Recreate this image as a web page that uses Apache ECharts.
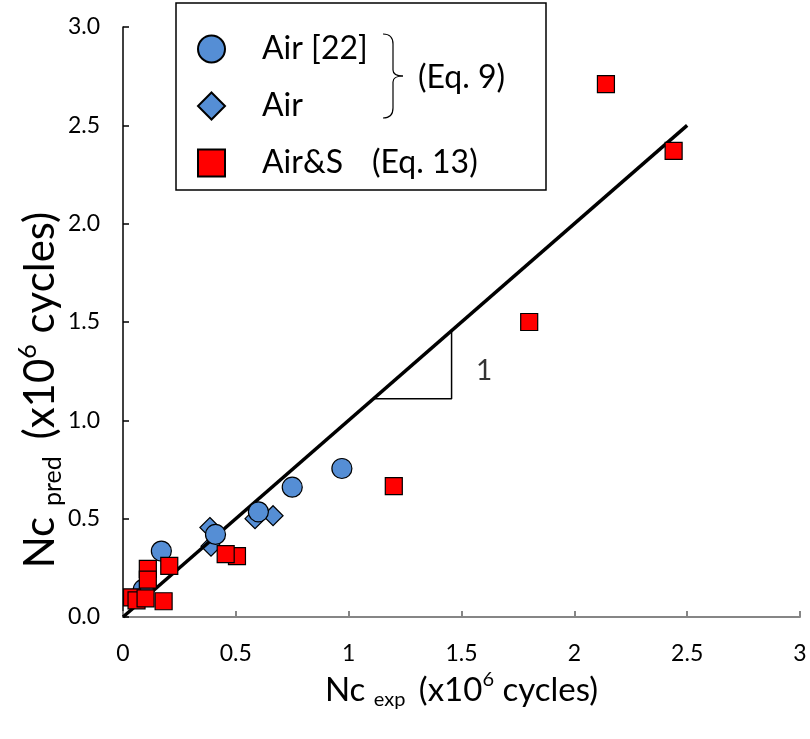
<!DOCTYPE html>
<html>
<head>
<meta charset="utf-8">
<script src="https://cdn.jsdelivr.net/npm/echarts@6/dist/echarts.min.js"></script>
<style>html,body{margin:0;padding:0;background:#fff}#c{width:810px;height:739px}</style>
</head>
<body>
<div id="c"></div>
<script>
// ---- data ----
var xTicks = [0, 0.5, 1, 1.5, 2, 2.5, 3];
var yTicks = [0, 0.5, 1.0, 1.5, 2.0, 2.5, 3.0];
var airRef = [[0.97,0.755],[0.75,0.66],[0.60,0.535],[0.41,0.42],[0.17,0.335],[0.09,0.14]];
var airOwn = [[0.665,0.515],[0.585,0.50],[0.385,0.455],[0.39,0.36],[0.10,0.15],[0.07,0.12]];
var airS = [[2.14,2.71],[2.44,2.37],[1.80,1.50],[1.20,0.665],[0.505,0.31],[0.455,0.32],[0.205,0.26],[0.11,0.245],[0.11,0.19],[0.04,0.10],[0.06,0.085],[0.10,0.095],[0.18,0.08]];
var unityLine = [[0,0],[2.5,2.5]];
var slopeTriangle = [[1.11,1.11],[1.456,1.11],[1.456,1.456]];
var slopeLabelPos = [[1.60,1.25]];
var slopeLabel = '1';

var FONT = 'Lato';
var BLUE = '#558ED5';
var RED = '#FF0000';

function seg(x1, y1, x2, y2) {
  return {type: 'line', shape: {x1: x1, y1: y1, x2: x2, y2: y2}, style: {stroke: '#000', lineWidth: 1.2}};
}
function curve(x1, y1, cx, cy, x2, y2) {
  return {type: 'bezierCurve', shape: {x1: x1, y1: y1, cpx1: cx, cpy1: cy, x2: x2, y2: y2}, style: {stroke: '#000', lineWidth: 1.2, fill: null}};
}

var chart = echarts.init(document.getElementById('c'));
chart.setOption({
  animation: false,
  textStyle: {fontFamily: FONT},
  grid: {left: 123, right: 10, top: 27, bottom: 122},
  xAxis: {
    type: 'value', min: 0, max: 3, interval: 0.5,
    axisLine: {onZero: false, lineStyle: {color: '#868686', width: 2}},
    axisTick: {inside: true, length: 6, lineStyle: {color: '#868686', width: 2}},
    splitLine: {show: false},
    axisLabel: {margin: 25, fontSize: 23, color: '#000', fontFamily: FONT,
      formatter: function (v) { return String(v); }},
    name: '{m|Nc }{sub|exp}{m| (x10}{sup|6}{m| cycles)}',
    nameLocation: 'middle', nameGap: 45,
    nameTextStyle: {
      rich: {
        m: {fontSize: 33, fontFamily: FONT, color: '#000', lineHeight: 40},
        sub: {fontSize: 20, fontFamily: FONT, color: '#000', lineHeight: 10, verticalAlign: 'bottom', padding: [0, 5, 0, 0]},
        sup: {fontSize: 20, fontFamily: FONT, color: '#000', lineHeight: 18, verticalAlign: 'top'}
      }
    }
  },
  yAxis: {
    type: 'value', min: 0, max: 3, interval: 0.5,
    axisLine: {onZero: false, show: true, lineStyle: {color: '#000', width: 1.5}},
    axisTick: {show: true, inside: true, length: 6, lineStyle: {color: '#000', width: 1.5}},
    splitLine: {show: false},
    axisLabel: {margin: 23, fontSize: 23, color: '#000', fontFamily: FONT,
      formatter: function (v) { return v.toFixed(1); }}
  },
  legend: {
    orient: 'vertical', left: 192, top: 28,
    itemWidth: 27, itemHeight: 27, itemGap: 25,
    selectedMode: false,
    textStyle: {fontSize: 32, fontFamily: FONT, color: '#000', lineHeight: 32, padding: [0, 0, 0, 32]},
    data: [{name: 'Air [22]', icon: 'circle'}, {name: 'Air', icon: 'diamond'}, {name: 'Air&S', icon: 'rect'}]
  },
  graphic: [
    {type: 'rect', shape: {x: 176, y: 3, width: 370, height: 187},
      style: {fill: null, stroke: '#000', lineWidth: 1.5}, z: 1},
    curve(383, 34, 393, 34, 393, 44),
    seg(393, 44, 393, 70),
    curve(393, 70, 393, 76, 403, 76),
    curve(403, 76, 393, 76, 393, 82),
    seg(393, 82, 393, 108),
    curve(393, 108, 393, 118, 383, 118),
    {type: 'text', x: 418, y: 78, style: {text: '(Eq. 9)', font: '32px ' + FONT, fill: '#000', verticalAlign: 'middle', align: 'left'}},
    {type: 'text', x: 372, y: 163, style: {text: '(Eq. 13)', font: '32px ' + FONT, fill: '#000', verticalAlign: 'middle', align: 'left'}},
    {type: 'text', x: 40, y: 390, rotation: Math.PI / 2,
      style: {
        text: '{m|Nc }{sub|pred}{m| (x10}{sup|6}{m| cycles)}',
        align: 'center', verticalAlign: 'middle',
        rich: {
          m: {fontSize: 42, fontFamily: FONT, fill: '#000', lineHeight: 50},
          sub: {fontSize: 25, fontFamily: FONT, fill: '#000', lineHeight: 12, verticalAlign: 'bottom', padding: [0, 6, 0, 0]},
          sup: {fontSize: 25, fontFamily: FONT, fill: '#000', lineHeight: 22, verticalAlign: 'top'}
        }
      }}
  ],
  series: [
    {name: 'Air', type: 'scatter', data: airOwn, symbol: 'diamond', symbolSize: 20, z: 2,
      itemStyle: {color: BLUE, borderColor: '#000', borderWidth: 1.2, opacity: 1}},
    {name: 'unity', type: 'line', data: unityLine, showSymbol: false, symbol: 'none', z: 3,
      lineStyle: {color: '#000', width: 3.5}, silent: true},
    {name: 'triangle', type: 'line', data: slopeTriangle, showSymbol: false, symbol: 'none', z: 3,
      lineStyle: {color: '#000', width: 1.5}, silent: true},
    {name: 'slope', type: 'scatter', data: slopeLabelPos, symbolSize: 0, z: 3, silent: true,
      label: {show: true, position: 'inside', formatter: slopeLabel, fontSize: 28, fontFamily: FONT, color: '#000'}},
    {name: 'Air [22]', type: 'scatter', data: airRef, symbol: 'circle', symbolSize: 20, z: 4,
      itemStyle: {color: BLUE, borderColor: '#000', borderWidth: 1.2, opacity: 1}},
    {name: 'Air&S', type: 'scatter', data: airS, symbol: 'rect', symbolSize: 17, z: 5,
      itemStyle: {color: RED, borderColor: '#000', borderWidth: 1.2, opacity: 1}}
  ]
});
</script>
</body>
</html>
